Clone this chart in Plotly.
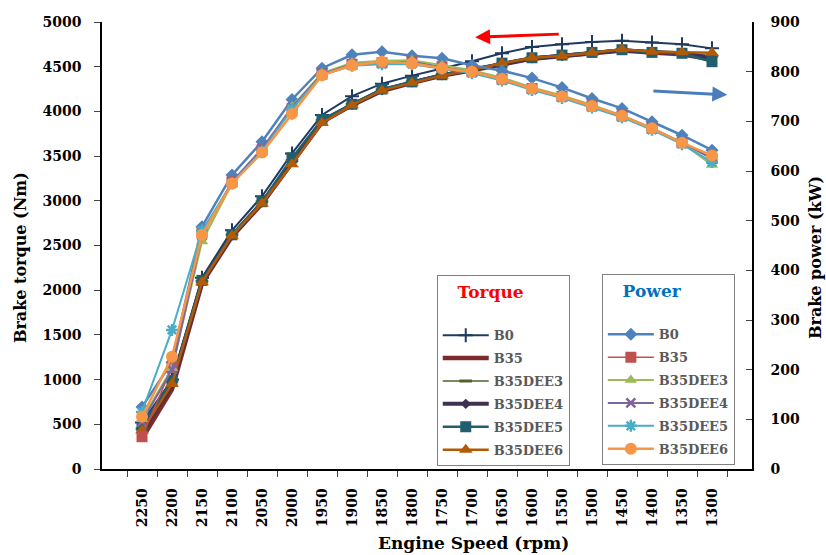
import plotly.graph_objects as go

speeds = ['2250', '2200', '2150', '2100', '2050', '2000', '1950', '1900', '1850', '1800',
          '1750', '1700', '1650', '1600', '1550', '1500', '1450', '1400', '1350', '1300']

torque_B0 = [520, 1000, 2140, 2670, 3050, 3530, 3960, 4170, 4310, 4400, 4480, 4560, 4650, 4720, 4750, 4775, 4790, 4770, 4750, 4705]
torque_B35 = [340, 890, 2080, 2600, 2970, 3420, 3880, 4070, 4230, 4320, 4400, 4460, 4520, 4590, 4620, 4650, 4680, 4660, 4640, 4580]
torque_DEE3 = [450, 980, 2100, 2620, 2990, 3450, 3900, 4080, 4240, 4330, 4410, 4470, 4530, 4600, 4625, 4660, 4690, 4670, 4655, 4620]
torque_DEE4 = [420, 950, 2090, 2610, 2980, 3440, 3890, 4075, 4235, 4325, 4405, 4465, 4525, 4595, 4620, 4655, 4685, 4665, 4650, 4600]
torque_DEE5 = [480, 990, 2110, 2620, 2990, 3480, 3910, 4080, 4250, 4330, 4410, 4470, 4540, 4600, 4630, 4660, 4690, 4660, 4650, 4556]
torque_DEE6 = [430, 950, 2090, 2610, 2970, 3410, 3870, 4070, 4235, 4320, 4400, 4463, 4538, 4600, 4620, 4657, 4694, 4668, 4661, 4657]

power_B0 = [125, 215, 488, 592, 659, 744, 807, 834, 840, 832, 827, 813, 802, 787, 768, 746, 726, 699, 672, 642]
power_B35 = [65, 205, 475, 578, 642, 725, 795, 815, 818, 820, 810, 800, 785, 766, 750, 731, 711, 686, 657, 625]
power_DEE3 = [100, 203, 458, 575, 640, 730, 797, 818, 822, 823, 813, 803, 788, 768, 752, 733, 712, 687, 656, 612]
power_DEE4 = [95, 200, 470, 578, 645, 728, 795, 815, 818, 820, 808, 800, 785, 766, 750, 731, 711, 686, 657, 625]
power_DEE5 = [115, 280, 480, 575, 640, 725, 793, 812, 815, 815, 806, 797, 782, 763, 747, 728, 708, 683, 654, 618]
power_DEE6 = [105, 226, 471, 575, 637, 715, 793, 813, 820, 817, 807, 800, 785, 766, 750, 731, 711, 686, 657, 631]

FONT = "DejaVu Serif"

fig = go.Figure()

torque_specs = [
    ("B0", torque_B0, "#1F3A60", 2, dict(symbol="cross-thin-open", size=10, line=dict(width=2, color="#1F3A60"))),
    ("B35", torque_B35, "#7B2B2B", 4.5, dict(size=1, opacity=0)),
    ("B35DEE3", torque_DEE3, "#4F6228", 1.5, dict(symbol="line-ew-open", size=9, line=dict(width=3, color="#4F6228"))),
    ("B35DEE4", torque_DEE4, "#3F3151", 4, dict(symbol="diamond", size=8, color="#3F3151")),
    ("B35DEE5", torque_DEE5, "#215F6E", 2.5, dict(symbol="square", size=11, color="#215F6E")),
    ("B35DEE6", torque_DEE6, "#B35A06", 2.5, dict(symbol="triangle-up", size=12, color="#B35A06")),
]
for i, (name, vals, col, w, mk) in enumerate(torque_specs):
    fig.add_trace(go.Scatter(x=speeds, y=vals, name=name, mode="lines+markers",
                             line=dict(color=col, width=w), marker=mk,
                             legend="legend", legendgroup="t%d" % i, yaxis="y"))

power_specs = [
    ("B0", power_B0, "#4F81BD", 2.5, dict(symbol="diamond", size=10, color="#4F81BD")),
    ("B35", power_B35, "#C0504D", 1.5, dict(symbol="square", size=11, color="#C0504D")),
    ("B35DEE3", power_DEE3, "#9BBB59", 2, dict(symbol="triangle-up", size=11, color="#9BBB59")),
    ("B35DEE4", power_DEE4, "#8064A2", 2, dict(symbol="x-thin-open", size=9, line=dict(width=2.5, color="#8064A2"))),
    ("B35DEE5", power_DEE5, "#4BACC6", 2, dict(symbol="asterisk-open", size=10, line=dict(width=2.5, color="#4BACC6"))),
    ("B35DEE6", power_DEE6, "#F79646", 2.5, dict(symbol="circle", size=12, color="#F79646")),
]
for i, (name, vals, col, w, mk) in enumerate(power_specs):
    fig.add_trace(go.Scatter(x=speeds, y=vals, name=name, mode="lines+markers",
                             line=dict(color=col, width=w), marker=mk,
                             legend="legend2", legendgroup="p%d" % i, yaxis="y2"))

legend_common = dict(
    bgcolor="white", bordercolor="#808080", borderwidth=1,
    font=dict(family=FONT, size=13, color="#595959", weight="bold"),
    tracegroupgap=3, traceorder="grouped", yanchor="top", xanchor="left",
    itemwidth=46,
)
SP = "\u00a0\u00a0\u00a0"
fig.update_layout(
    width=826, height=555,
    margin=dict(l=102, r=74, t=22, b=86),
    plot_bgcolor="white", paper_bgcolor="white",
    font=dict(family=FONT, color="black"),
    xaxis=dict(type="category", tickangle=-90, ticks="outside", ticklen=6, tickson="boundaries",
               showline=True, linecolor="black", linewidth=1.5, showgrid=False,
               tickfont=dict(family=FONT, size=14, color="black", weight="bold"),
               ticklabelstandoff=12),
    yaxis=dict(range=[0, 5000], dtick=500, ticks="outside", ticklen=6, showline=True,
               linecolor="black", linewidth=1.5, showgrid=False, zeroline=False,
               tickfont=dict(family=FONT, size=14, color="black", weight="bold"),
               ticklabelstandoff=10),
    yaxis2=dict(range=[0, 900], dtick=100, overlaying="y", side="right", ticks="inside", ticklen=6,
                showline=True, linecolor="black", linewidth=1.5, showgrid=False, zeroline=False,
                tickfont=dict(family=FONT, size=14, color="black", weight="bold"),
                ticklabelstandoff=14),
    legend=dict(x=0.515, y=0.434,
                title=dict(text=SP + "Torque<br><span style='font-size:3px'>\u00a0</span>",
                           font=dict(family=FONT, size=17, color="#FF0000", weight="bold")),
                **legend_common),
    legend2=dict(x=0.769, y=0.436,
                 title=dict(text=SP + "Power<br><span style='font-size:3px'>\u00a0</span>",
                            font=dict(family=FONT, size=17, color="#0070C0", weight="bold")),
                 **legend_common),
)

fig.add_annotation(text="<b>Brake torque (Nm)</b>", xref="paper", yref="paper", x=-0.126, y=0.472,
                   textangle=-90, showarrow=False, font=dict(family=FONT, size=16, color="black"),
                   xanchor="center", yanchor="middle")
fig.add_annotation(text="<b>Brake power (kW)</b>", xref="paper", yref="paper", x=1.097, y=0.472,
                   textangle=-90, showarrow=False, font=dict(family=FONT, size=16, color="black"),
                   xanchor="center", yanchor="middle")
fig.add_annotation(text="<b>Engine Speed (rpm)</b>", xref="paper", yref="paper", x=0.572, y=-0.166,
                   showarrow=False, font=dict(family=FONT, size=17, color="black"),
                   xanchor="center", yanchor="middle")

fig.add_annotation(xref="x domain", yref="y domain", axref="x domain", ayref="y domain",
                   x=0.574, y=0.966, ax=0.705, ay=0.973, text="", showarrow=True,
                   arrowhead=2, arrowsize=1, arrowwidth=3, arrowcolor="#FF0000")
fig.add_annotation(xref="x domain", yref="y domain", axref="x domain", ayref="y domain",
                   x=0.962, y=0.837, ax=0.846, ay=0.846, text="", showarrow=True,
                   arrowhead=2, arrowsize=1, arrowwidth=3, arrowcolor="#4A7EBB")

fig.write_html("out.html")
